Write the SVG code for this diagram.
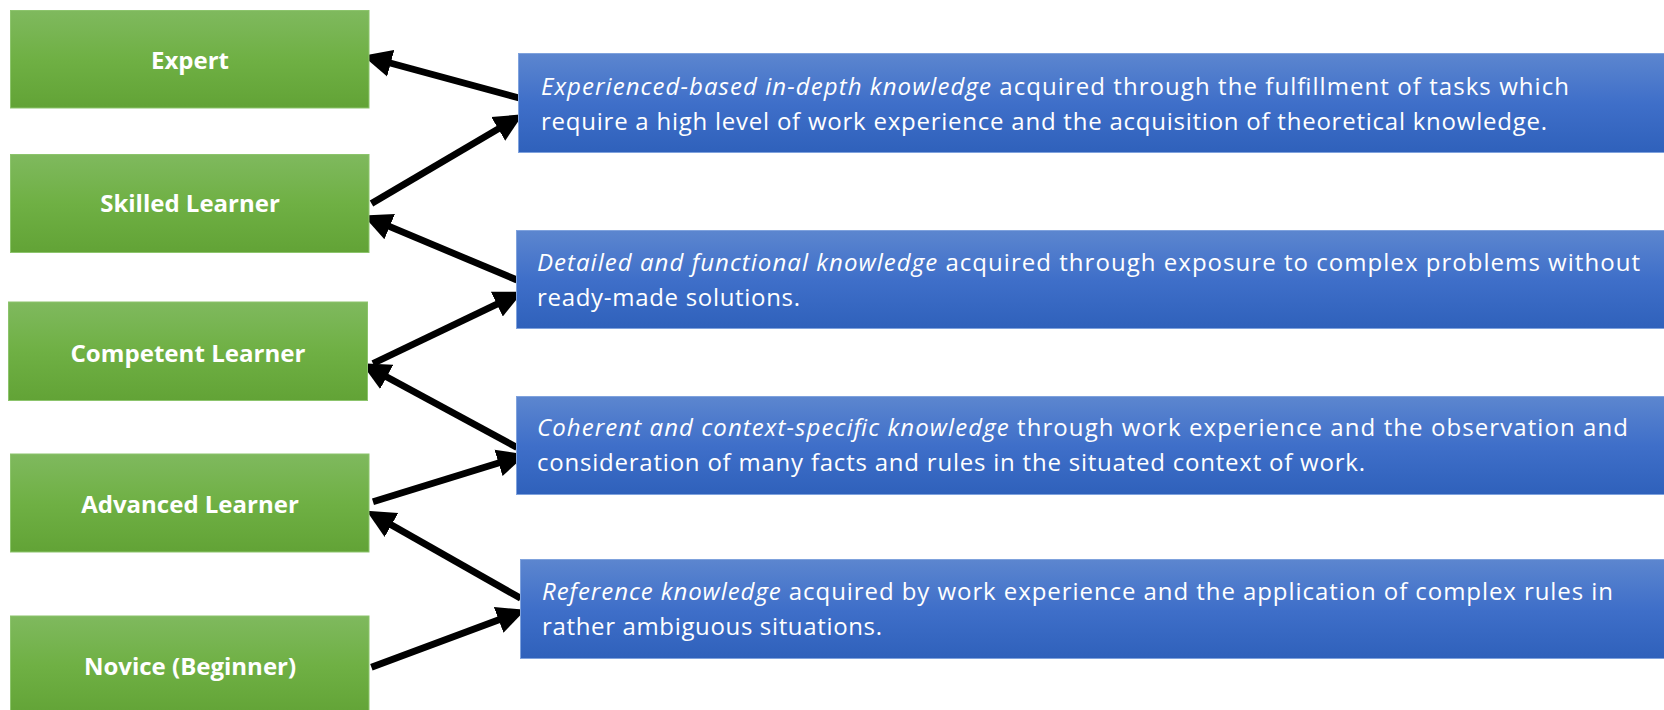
<svg xmlns="http://www.w3.org/2000/svg" width="1664" height="710" viewBox="0 0 1664 710">
<defs>
<linearGradient id="gGreen" x1="0" y1="0" x2="0" y2="1">
<stop offset="0" stop-color="#7fb95e"/>
<stop offset="0.5" stop-color="#6fb044"/>
<stop offset="1" stop-color="#62a336"/>
</linearGradient>
<linearGradient id="gBlue" x1="0" y1="0" x2="0" y2="1">
<stop offset="0" stop-color="#5c86cf"/>
<stop offset="0.5" stop-color="#3f6fc9"/>
<stop offset="1" stop-color="#2f61bb"/>
</linearGradient>
<marker id="ah" markerUnits="userSpaceOnUse" markerWidth="30" markerHeight="30" viewBox="0 -12 24 24" refX="2" refY="0" orient="auto">
<path d="M0,-11 L23,0 L0,11 z" fill="#000"/>
</marker>
<style>
.g{fill:url(#gGreen);stroke:#8cc46c;stroke-width:1}
.b{fill:url(#gBlue);stroke:#7fa2dd;stroke-width:1}
.gl{font-family:"Open Sans","Liberation Sans",Arial,sans-serif;font-weight:bold;font-size:24px;fill:#fff;text-anchor:middle}
.bl{font-family:"Open Sans","Liberation Sans",Arial,sans-serif;font-size:24px;fill:#fff}
.i{font-style:italic}
.c{stroke:#000;stroke-width:6.8;fill:none;marker-end:url(#ah)}
</style>
</defs>
<rect width="1664" height="710" fill="#fff"/>

<g id="connectors">
<line class="c" x1="521" y1="98.5" x2="388.3" y2="62.5"/>
<line class="c" x1="371.5" y1="203.5" x2="500.4" y2="127.6"/>
<line class="c" x1="517" y1="280" x2="387.4" y2="225.6"/>
<line class="c" x1="373" y1="363.5" x2="499.1" y2="303.1"/>
<line class="c" x1="517" y1="447.5" x2="384.5" y2="375.7"/>
<line class="c" x1="373" y1="501.7" x2="500.9" y2="462.2"/>
<line class="c" x1="520.7" y1="598.3" x2="389.3" y2="523.7"/>
<line class="c" x1="371.4" y1="667.3" x2="501" y2="619"/>
</g>

<g id="expert">
<rect class="g" x="10.5" y="10.5" width="358.5" height="97.5"/>
<text class="gl" x="190" y="69">Expert</text>
</g>
<g id="skilled">
<rect class="g" x="10.5" y="154.5" width="358.5" height="98"/>
<text class="gl" x="190" y="212">Skilled Learner</text>
</g>
<g id="competent">
<rect class="g" x="8.5" y="302" width="359" height="98.5"/>
<text class="gl" x="188" y="362" textLength="235" lengthAdjust="spacingAndGlyphs">Competent Learner</text>
</g>
<g id="advanced">
<rect class="g" x="10.5" y="454" width="358.5" height="98"/>
<text class="gl" x="190" y="513">Advanced Learner</text>
</g>
<g id="novice">
<rect class="g" x="10.5" y="616" width="358.5" height="100"/>
<text class="gl" x="190" y="675">Novice (Beginner)</text>
</g>

<g id="desc-expert">
<rect class="b" x="518.5" y="53.5" width="1150" height="99"/>
<text class="bl" x="541" y="95" textLength="1028" lengthAdjust="spacing"><tspan class="i">Experienced-based in-depth knowledge</tspan> acquired through the fulfillment of tasks which</text>
<text class="bl" x="541" y="130" textLength="1006" lengthAdjust="spacing">require a high level of work experience and the acquisition of theoretical knowledge.</text>
</g>
<g id="desc-skilled">
<rect class="b" x="516.5" y="230.5" width="1152" height="98"/>
<text class="bl" x="537" y="270.5" textLength="1103" lengthAdjust="spacing"><tspan class="i">Detailed and functional knowledge</tspan> acquired through exposure to complex problems without</text>
<text class="bl" x="537" y="305.5" textLength="263" lengthAdjust="spacing">ready-made solutions.</text>
</g>
<g id="desc-competent">
<rect class="b" x="516.5" y="396.5" width="1152" height="98"/>
<text class="bl" x="537" y="435.5" textLength="1091" lengthAdjust="spacing"><tspan class="i">Coherent and context-specific knowledge</tspan> through work experience and the observation and</text>
<text class="bl" x="537" y="470.5" textLength="828" lengthAdjust="spacing">consideration of many facts and rules in the situated context of work.</text>
</g>
<g id="desc-advanced">
<rect class="b" x="520.5" y="559.5" width="1148" height="99"/>
<text class="bl" x="542" y="600" textLength="1071" lengthAdjust="spacing"><tspan class="i">Reference knowledge</tspan> acquired by work experience and the application of complex rules in</text>
<text class="bl" x="542" y="635" textLength="340" lengthAdjust="spacing">rather ambiguous situations.</text>
</g>
</svg>
